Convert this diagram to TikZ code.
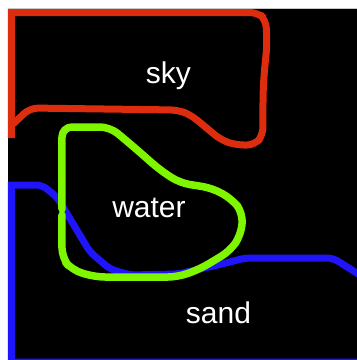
\documentclass[tikz,border=0pt]{standalone}
\usepackage{fontspec}
\setmainfont{Liberation Sans}
\usepackage{tikz}
\usetikzlibrary{calc}
\definecolor{segSky}{RGB}{222,44,14}
\definecolor{segWater}{RGB}{126,246,0}
\definecolor{segSand}{RGB}{32,20,250}
\definecolor{segFrame}{RGB}{200,200,200}
\tikzset{
    segBase/.style={line width=7pt, line join=round, line cap=round},
    % Region outlines
    skyline/.style={segBase, draw=segSky, rounded corners=8pt},
    waterline/.style={segBase, draw=segWater, line width=7.5pt, rounded corners=10pt},
    sandline/.style={segBase, draw=segSand, rounded corners=8pt},
    % Labels
    regionlabel/.style={
        text=white,
        anchor=base,
        inner sep=0pt,
        font=\fontsize{30}{36}\selectfont
    }
}
\begin{document}
\begin{tikzpicture}[x=1pt, y=-1pt]
\useasboundingbox (0,0) rectangle (357,360);
\fill[white] (0,0) rectangle (357,360);
\begin{scope}
\clip (0,0) rectangle (357,360);
\fill[black] (8,8) rectangle (357,360);
\draw[segFrame, line width=1pt] (8,8.5) -- (357,8.5);

% sand
\draw[sandline, line join=miter] (11.5,362) [sharp corners] -- (11.5,185) [rounded corners=6pt] -- (42,185) -- (57,197) -- (90,252) -- (110,269) -- (130,275) -- (178,274) -- (222,264) -- (245,258) -- (333,258) -- (352,270) -- (364,278) [sharp corners] -- (364,362) -- cycle;

% water (open at the left where sand crosses)
\draw[waterline] (62,209) -- (62,127) -- (110,127) -- (135,148) -- (160,170) -- (180,183) -- (212,188) -- (232,199) -- (243,213) -- (241,235) -- (230,251) -- (200,269) -- (178,277) -- (95,277) -- (72,270) -- (62,258) -- (62,215);

% sky
\draw[skyline, line cap=butt, line join=miter] (11.5,138) [sharp corners] -- (11.5,12.5) -- (250,12.5) [rounded corners=8pt] -- (258,12.5) -- (266,20) -- (267,45) -- (264,75) -- (263,95) -- (263,135) -- (255,145) -- (236,145) -- (221,140) -- (191,115) -- (178,110) -- (30,108) -- (13,124);
\end{scope}

\node[regionlabel] (sky) at (168.5,83) {sky};
\node[regionlabel] (water) at (149,217) {water};
\node[regionlabel] (sand) at (218.5,323) {sand};
\end{tikzpicture}
\end{document}
